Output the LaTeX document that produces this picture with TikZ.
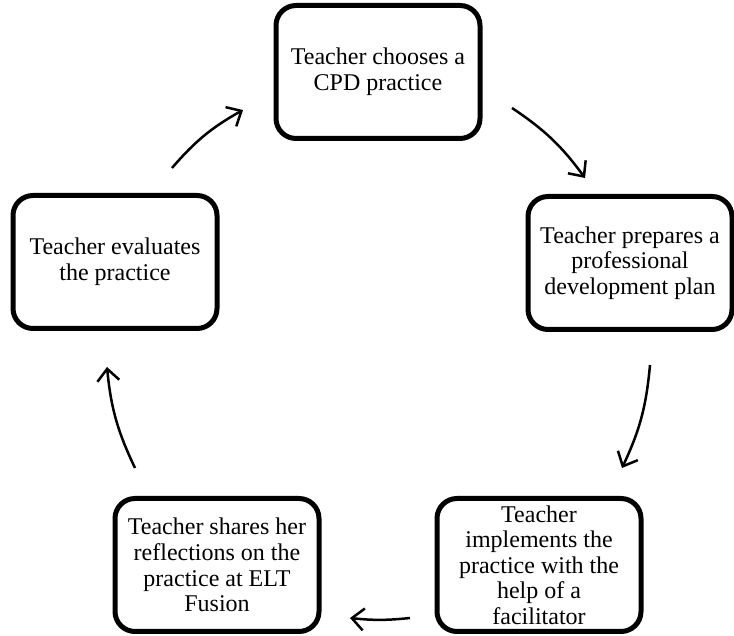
\documentclass[tikz,border=0pt]{standalone}
\usepackage{fontspec}
\setmainfont{Liberation Serif}
\usetikzlibrary{arrows.meta}
\begin{document}
\begin{tikzpicture}[x=0.5pt,y=0.5pt,
    stage/.style={draw,line width=2.5pt,rounded corners=10pt,minimum width=102pt,minimum height=66.5pt,inner sep=0pt,align=center,font=\fontsize{12}{12.8}\selectfont},
    cyc/.style={line width=1.25pt,-{Straight Barb[length=6pt,width=11pt]}}]
    \useasboundingbox (0,0) rectangle (734,636);

    \node[stage] (choose) at (378,564) {Teacher chooses a\\CPD practice};
    \node[stage] (plan) at (630,373) {Teacher prepares a\\professional\\development plan};
    \node[stage] (implement) at (539,71) {Teacher\\implements the\\practice with the\\help of a\\facilitator};
    \node[stage] (share) at (217,71) {Teacher shares her\\reflections on the\\practice at ELT\\Fusion};
    \node[stage] (evaluate) at (115,374) {Teacher evaluates\\the practice};

    \coordinate (a1) at (512,528);
    \coordinate (b1) at (585,458);
    \coordinate (a2) at (650,271);
    \coordinate (b2) at (622,168);
    \coordinate (a3) at (410,18);
    \coordinate (b3) at (350,18);
    \coordinate (a4) at (135,168);
    \coordinate (b4) at (107,269);
    \coordinate (a5) at (172,468);
    \coordinate (b5) at (243,526);

    \draw[cyc] (a1) to[bend left=10] (b1);
    \draw[cyc] (a2) to[bend left=10] (b2);
    \draw[cyc] (a3) to[bend left=6] (b3);
    \draw[cyc] (a4) to[bend left=10] (b4);
    \draw[cyc] (a5) to[bend left=10] (b5);

\end{tikzpicture}
\end{document}
